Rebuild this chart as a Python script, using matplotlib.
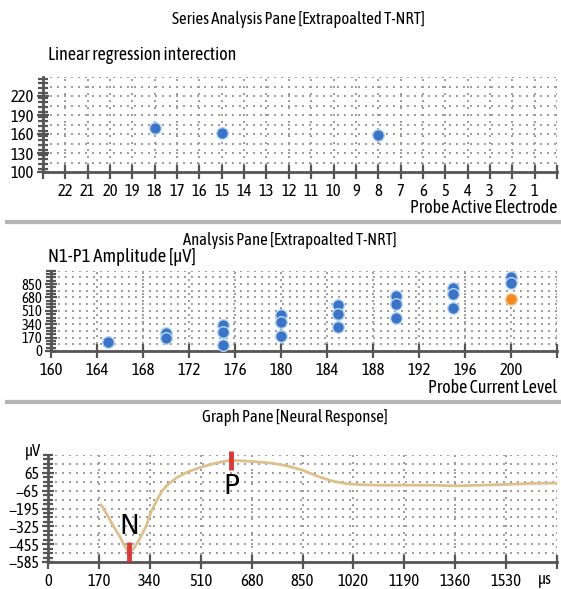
import matplotlib
matplotlib.use("Agg")
import matplotlib.pyplot as plt
import numpy as np
from matplotlib.ticker import MultipleLocator

plt.rcParams['font.family'] = ['Asap Condensed', 'DejaVu Sans']
plt.rcParams['axes.unicode_minus'] = True

# Series analysis pane: extrapolated T-NRT per electrode
electrodes = [18, 15, 8]
tnrt_levels = [169, 161, 158]
electrode_ticks = list(range(1, 23))

# Analysis pane: N1-P1 amplitude vs probe current level
current_levels = [165, 170, 170, 175, 175, 175, 180, 180, 180, 185, 185, 185,
                  190, 190, 190, 195, 195, 195, 200, 200]
amplitudes = [110, 230, 160, 335, 245, 75, 455, 370, 185, 585, 465, 310,
              700, 600, 425, 805, 725, 550, 935, 860]
extra_level = [200]
extra_amp = [660]

# Graph pane: neural response waveform
time_us = [178, 200, 220, 240, 255, 265, 272, 285, 300, 315, 330, 345, 360, 380,
           400, 430, 470, 510, 550, 590, 612, 650, 700, 750, 800, 850, 900, 950,
           1000, 1050, 1100, 1190, 1280, 1360, 1450, 1530, 1620, 1700]
response_uv = [-170, -250, -330, -400, -465, -500, -512, -490, -440, -380, -310,
               -215, -150, -70, -20, 30, 75, 105, 130, 150, 156, 152, 145, 135,
               115, 85, 40, 5, -15, -22, -25, -25, -25, -30, -25, -20, -12, -10]
n_peak = (272, -512)
p_peak = (612, 156)

W, H = 561, 589
fig = plt.figure(figsize=(W / 100, H / 100), dpi=100)


def rect(l, t, r, b):
    return [l / W, 1 - b / H, (r - l) / W, (b - t) / H]


def ftext(x, y, s, **kw):
    fig.text(x / W, 1 - y / H, s, **kw)


axc = '#555555'
gridc = '#9a9a9a'


def style(ax, ylo, yhi, ystep, yminor, ygrid, ysize=12):
    for s in ['top', 'right']:
        ax.spines[s].set_visible(False)
    for s in ['left', 'bottom']:
        ax.spines[s].set_color(axc)
        ax.spines[s].set_linewidth(2)
    ax.tick_params(which='both', direction='inout', color=axc, width=1.6,
                   labelsize=12, pad=2)
    ax.tick_params(axis='x', which='major', length=10, pad=3)
    ax.tick_params(axis='y', which='both', length=9, labelsize=ysize)
    ax.tick_params(axis='y', which='minor', length=7)
    ax.set_ylim(ylo, yhi)
    ax.set_yticks(np.arange(ylo, yhi - ystep + 1, ystep))
    ax.yaxis.set_minor_locator(MultipleLocator(yminor))
    for yv in np.arange(ylo + ygrid, yhi + 0.1, ygrid):
        ax.axhline(yv, color=gridc, lw=1.4, ls=(0, (1, 2.6)), zorder=0)
    for xv in ax.get_xticks():
        ax.axvline(xv, color=gridc, lw=1.4, ls=(0, (1, 2.6)), zorder=0)


# ---- panel 1
ax1 = fig.add_axes(rect(43, 77, 557, 172))
ax1.set_xlim(23, 0)
ax1.set_xticks(list(range(0, 24)))
ax1.set_xticklabels([''] + [str(v) for v in electrode_ticks] + [''])
style(ax1, 100, 250, 30, 7.5, 15)
ax1.scatter(electrodes, tnrt_levels, s=70, color='#3b73c6', edgecolor='#b7d7f2',
            linewidth=1, zorder=3, clip_on=False)
ftext(298, 20, 'Series Analysis Pane [Extrapoalted T-NRT]', ha='center', va='center', fontsize=12)
ftext(48, 55, 'Linear regression interection', ha='left', va='center', fontsize=13)
ftext(557, 208, 'Probe Active Electrode', ha='right', va='center', fontsize=13)

# ---- panel 2
ax2 = fig.add_axes(rect(51, 270.6, 557, 351))
ax2.set_xlim(160, 204)
ax2.set_xticks(list(range(160, 205, 4)))
ax2.set_xticklabels([str(v) for v in range(160, 201, 4)] + [''])
style(ax2, 0, 1020, 170, 42.5, 85, ysize=10.5)
ax2.scatter(current_levels, amplitudes, s=70, color='#3b73c6', edgecolor='#b7d7f2',
            linewidth=1, zorder=3, clip_on=False)
ax2.scatter(extra_level, extra_amp, s=70, color='#f08a24', edgecolor='#f6c98f',
            linewidth=1, zorder=3, clip_on=False)
ftext(290, 240, 'Analysis Pane [Extrapoalted T-NRT]', ha='center', va='center', fontsize=12)
ftext(48, 257, 'N1-P1 Amplitude [µV]', ha='left', va='center', fontsize=13.5)
ftext(557, 388, 'Probe Current Level', ha='right', va='center', fontsize=13)

# ---- panel 3
ax3 = fig.add_axes(rect(48, 455, 557, 562))
ax3.set_xlim(0, 1700)
ax3.set_xticks(list(range(0, 1701, 170)))
ax3.set_xticklabels([str(v) for v in range(0, 1531, 170)] + [''])
style(ax3, -585, 195, 130, 32.5, 65, ysize=11.5)
ax3.plot(time_us, response_uv, color='#dcc08e', lw=2, zorder=2)
ax3.plot([n_peak[0], n_peak[0]], [-440, -585], color='#d93a36', lw=3.5, zorder=4,
         solid_capstyle='butt')
ax3.plot([p_peak[0], p_peak[0]], [225, 85], color='#d93a36', lw=3.5, zorder=4,
         solid_capstyle='butt', clip_on=False)
ax3.text(n_peak[0], -330, 'N', ha='center', va='center', fontsize=19,
         family=['DejaVu Sans'], zorder=5)
ax3.text(p_peak[0], -35, 'P', ha='center', va='center', fontsize=19,
         family=['DejaVu Sans'], zorder=5)
ftext(295, 418, 'Graph Pane [Neural Response]', ha='center', va='center', fontsize=12)
ftext(33, 452, 'µV', ha='center', va='center', fontsize=12)
ftext(545, 580, 'µs', ha='center', va='center', fontsize=12)

# panel separators
for yy in [222, 402]:
    fig.add_artist(plt.Line2D([7 / W, 1], [1 - yy / H, 1 - yy / H], color='#b5b5b5', lw=3))

fig.savefig('out.png', dpi=100)
